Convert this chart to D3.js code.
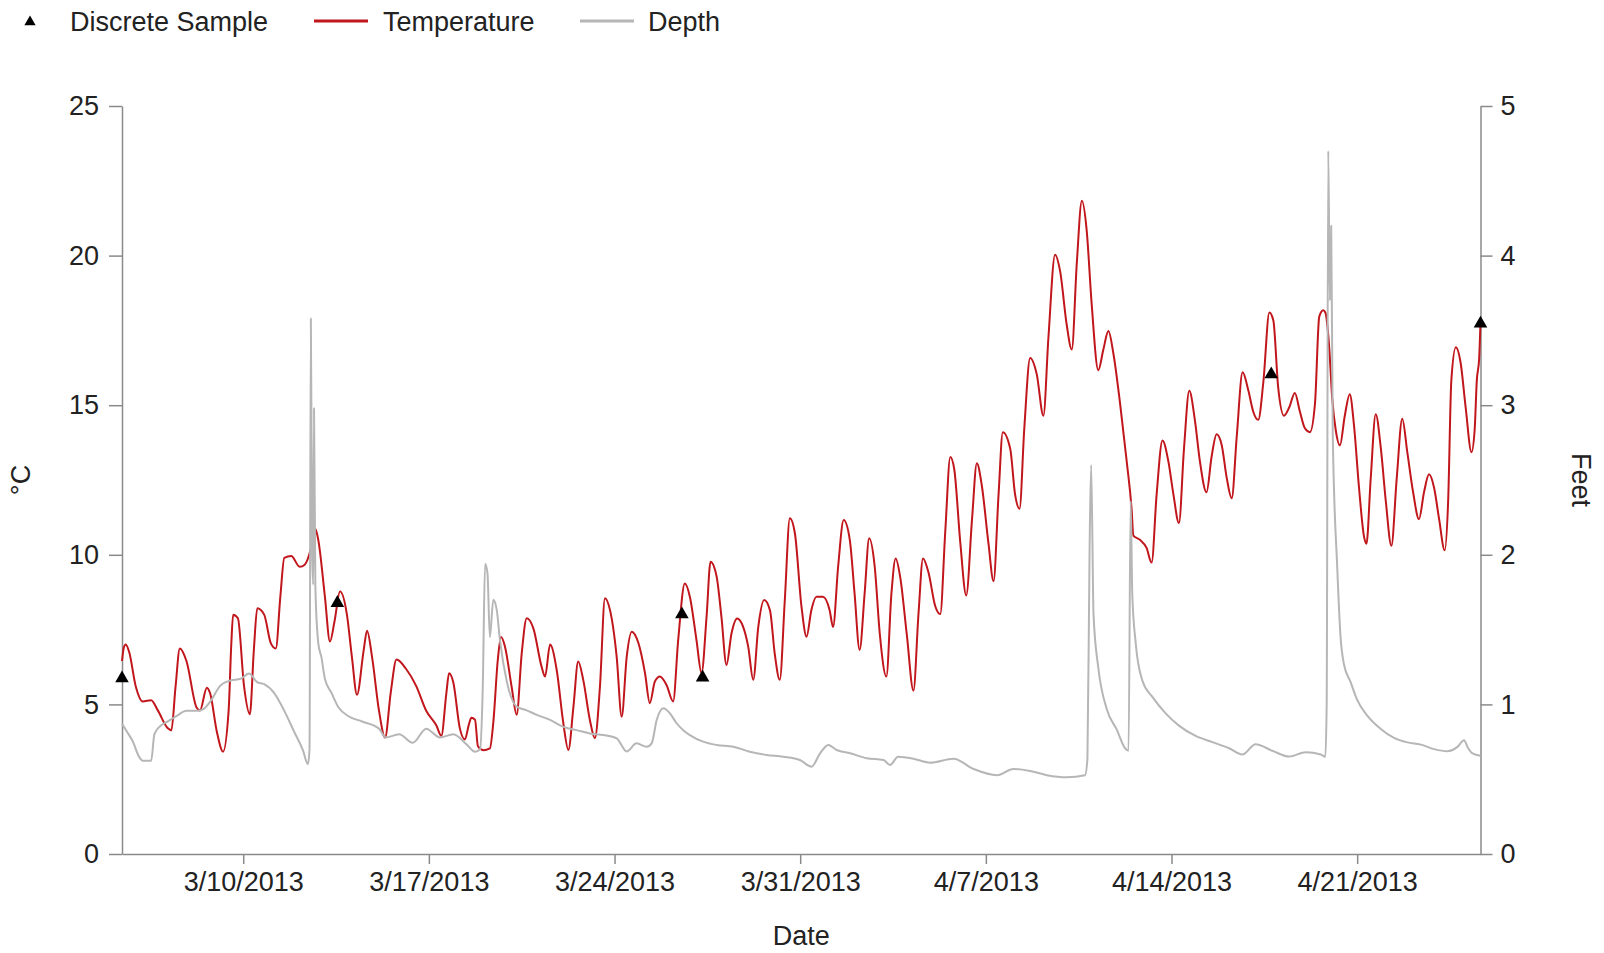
<!DOCTYPE html>
<html><head><meta charset="utf-8">
<script src="https://cdn.jsdelivr.net/npm/d3@7"></script>
<style>
body{margin:0;background:#fff;}
svg text{font-family:"Liberation Sans",Arial,sans-serif;}
</style></head><body>
<svg id="chart" width="1604" height="953"></svg>
<script>
// ---- data (day offsets are days since 3/10/2013 00:00) ----
const xTickLabels = ["3/10/2013","3/17/2013","3/24/2013","3/31/2013","4/7/2013","4/14/2013","4/21/2013"];
const yLeftTicks = [0,5,10,15,20,25];
const yRightTicks = [0,1,2,3,4,5];
const xDomainDays = [-4.57, 46.65];
const legendLabels = ["Discrete Sample","Temperature","Depth"];

const temperature = [
[-4.57,6.45],[-4.5,6.9],[-4.43,7.0],[-4.3,6.75],[-4.05,5.6],[-3.79,5.1],[-3.47,5.14],[-3.22,4.8],
[-2.84,4.2],[-2.71,4.13],[-2.55,5.6],[-2.39,6.87],[-2.14,6.45],[-1.76,4.9],[-1.63,4.8],[-1.37,5.56],
[-1.25,5.38],[-0.99,4.07],[-0.76,3.42],[-0.55,4.79],[-0.45,7.0],[-0.38,8.0],[-0.2,7.88],[0.03,5.62],
[0.25,4.67],[0.4,6.8],[0.53,8.21],[0.79,8.0],[1.04,7.05],[1.23,6.87],[1.4,8.6],[1.55,9.9],
[1.81,9.96],[2.13,9.6],[2.32,9.67],[2.57,10.26],[2.72,10.86],[2.83,10.5],[3.08,8.6],[3.27,7.1],
[3.44,7.76],[3.65,8.77],[3.91,8.0],[4.1,6.57],[4.29,5.32],[4.54,6.8],[4.67,7.46],[4.86,6.57],
[5.12,4.79],[5.35,3.89],[5.56,5.38],[5.78,6.5],[6.13,6.2],[6.52,5.62],[6.9,4.79],[7.28,4.3],
[7.47,3.95],[7.66,5.38],[7.76,6.04],[7.92,5.74],[8.17,4.19],[8.36,3.83],[8.5,4.3],[8.6,4.55],
[8.74,4.49],[8.85,3.6],[9.05,3.47],[9.3,3.53],[9.43,4.4],[9.6,6.5],[9.72,7.25],[9.87,6.93],
[10.12,5.59],[10.31,4.65],[10.5,6.7],[10.69,7.88],[10.94,7.54],[11.25,6.26],[11.38,5.93],[11.57,7.0],
[11.82,6.15],[12.07,4.37],[12.26,3.48],[12.45,4.92],[12.63,6.43],[12.82,5.82],[13.07,4.48],[13.26,3.87],
[13.45,5.59],[13.64,8.55],[13.83,8.15],[14.08,6.6],[14.27,4.59],[14.46,6.6],[14.65,7.43],[14.9,7.05],
[15.15,6.04],[15.33,5.04],[15.52,5.76],[15.71,5.93],[15.96,5.65],[16.21,5.1],[16.4,7.15],[16.65,9.04],
[16.84,8.6],[17.09,7.15],[17.28,6.04],[17.47,7.93],[17.62,9.77],[17.85,9.27],[18.03,7.93],[18.22,6.32],
[18.41,7.37],[18.62,7.87],[18.85,7.59],[19.04,6.93],[19.23,5.82],[19.42,7.59],[19.64,8.49],[19.86,8.15],
[20.04,6.7],[20.23,5.82],[20.42,8.49],[20.61,11.22],[20.8,10.72],[21.05,8.26],[21.24,7.26],[21.42,8.15],
[21.61,8.6],[21.86,8.6],[22.11,8.15],[22.24,7.59],[22.43,9.6],[22.64,11.16],[22.87,10.5],[23.05,8.71],
[23.24,6.82],[23.43,8.71],[23.6,10.55],[23.81,9.6],[24.0,7.37],[24.25,5.93],[24.44,8.71],[24.6,9.88],
[24.77,9.26],[25.02,7.33],[25.27,5.46],[25.46,8.02],[25.63,9.88],[25.84,9.4],[26.09,8.29],[26.28,8.02],
[26.47,10.78],[26.66,13.27],[26.81,12.85],[27.04,10.37],[27.26,8.64],[27.48,11.2],[27.66,13.06],[27.85,12.3],
[28.1,10.37],[28.29,9.12],[28.48,12.03],[28.64,14.1],[28.92,13.54],[29.1,12.03],[29.27,11.54],[29.45,14.23],
[29.67,16.58],[29.92,16.03],[30.17,14.65],[30.36,17.27],[30.61,20.03],[30.8,19.48],[31.05,17.68],[31.24,16.86],
[31.43,19.76],[31.62,21.83],[31.8,20.86],[31.99,18.38],[32.24,16.17],[32.43,16.86],[32.62,17.48],[32.81,16.72],
[33.06,15.06],[33.31,13.13],[33.5,11.47],[33.56,10.64],[33.81,10.5],[34.06,10.23],[34.25,9.74],[34.44,12.03],
[34.66,13.82],[34.88,13.13],[35.07,12.03],[35.28,11.06],[35.47,13.54],[35.67,15.48],[35.88,14.51],[36.07,13.13],
[36.32,12.09],[36.51,13.27],[36.7,14.03],[36.89,13.68],[37.08,12.58],[37.27,11.89],[37.46,13.96],[37.68,16.1],
[37.9,15.48],[38.08,14.79],[38.27,14.51],[38.46,15.75],[38.69,18.1],[38.84,17.83],[39.02,15.61],[39.24,14.65],
[39.44,14.93],[39.65,15.41],[39.84,14.79],[40.03,14.23],[40.22,14.1],[40.41,15.06],[40.57,17.96],[40.72,18.17],
[40.8,18.1],[40.94,17.01],[41.06,15.22],[41.19,14.18],[41.35,13.66],[41.53,14.63],[41.72,15.37],[41.88,14.33],
[42.07,12.24],[42.26,10.6],[42.35,10.37],[42.51,12.54],[42.7,14.7],[42.89,13.58],[43.08,11.79],[43.29,10.3],
[43.49,12.54],[43.7,14.55],[43.89,13.43],[44.11,12.09],[44.33,11.19],[44.52,12.09],[44.71,12.69],[44.9,12.24],
[45.09,11.19],[45.3,10.15],[45.43,11.79],[45.55,15.82],[45.72,16.94],[45.9,16.42],[46.09,14.93],[46.31,13.43],
[46.43,14.18],[46.51,15.82],[46.6,16.57],[46.65,17.8]
];

const depth = [
[-4.57,0.87],[-4.37,0.814],[-4.17,0.755],[-3.92,0.648],[-3.79,0.624],[-3.47,0.624],[-3.35,0.8],[-3.16,0.85],
[-2.84,0.886],[-2.52,0.921],[-2.14,0.957],[-1.76,0.957],[-1.5,0.969],[-1.25,1.017],[-0.87,1.124],[-0.48,1.16],
[-0.1,1.171],[0.22,1.207],[0.53,1.148],[0.79,1.136],[1.17,1.076],[1.55,0.957],[1.93,0.814],[2.25,0.695],
[2.44,0.6],[2.5,0.7],[2.55,3.58],[2.6,2.0],[2.64,1.8],[2.67,2.98],[2.72,1.79],[2.83,1.41],
[2.95,1.314],[3.08,1.171],[3.33,1.076],[3.59,0.981],[3.97,0.921],[4.48,0.886],[5.12,0.838],[5.37,0.779],
[5.88,0.8],[6.39,0.743],[6.9,0.838],[7.41,0.779],[7.92,0.8],[8.43,0.731],[8.74,0.683],[8.93,0.7],
[9.03,1.1],[9.12,1.94],[9.21,1.876],[9.3,1.45],[9.43,1.7],[9.56,1.63],[9.68,1.43],[9.93,1.16],
[10.31,0.985],[10.69,0.96],[11.07,0.93],[11.57,0.896],[12.07,0.85],[12.57,0.828],[13.07,0.806],[13.58,0.795],
[14.08,0.773],[14.46,0.685],[14.83,0.74],[15.21,0.717],[15.4,0.74],[15.59,0.896],[15.84,0.974],[16.09,0.94],
[16.34,0.874],[16.59,0.828],[16.84,0.795],[17.34,0.751],[17.85,0.729],[18.48,0.717],[19.1,0.684],[19.73,0.662],
[20.36,0.65],[20.99,0.628],[21.43,0.584],[21.75,0.673],[22.06,0.729],[22.38,0.695],[22.88,0.673],[23.51,0.64],
[24.14,0.628],[24.39,0.595],[24.69,0.65],[25.27,0.637],[25.9,0.61],[26.78,0.637],[27.54,0.568],[28.42,0.527],
[29.04,0.568],[29.67,0.555],[30.3,0.527],[31.05,0.513],[31.74,0.527],[31.83,0.637],[31.91,2.02],[31.97,2.6],
[32.06,1.6],[32.24,1.245],[32.56,0.968],[32.94,0.83],[33.25,0.707],[33.38,0.69],[33.46,2.36],[33.52,1.74],
[33.65,1.41],[33.9,1.16],[34.28,1.05],[34.78,0.94],[35.28,0.858],[35.91,0.789],[36.54,0.748],[37.17,0.707],
[37.67,0.665],[38.17,0.734],[38.8,0.69],[39.43,0.651],[40.06,0.68],[40.63,0.665],[40.8,0.65],[40.85,1.0],
[40.91,4.7],[40.97,3.7],[41.02,4.2],[41.08,2.8],[41.25,1.91],[41.37,1.46],[41.5,1.27],[41.75,1.15],
[42.0,1.03],[42.38,0.925],[42.89,0.836],[43.39,0.776],[43.89,0.746],[44.4,0.731],[44.9,0.701],[45.4,0.687],
[45.78,0.716],[46.03,0.761],[46.16,0.716],[46.35,0.672],[46.65,0.657]
];

const samples = [[-4.57,5.87],[3.55,8.39],[16.54,8.01],[17.32,5.9],[38.76,16.03],[46.65,17.73]];

// ---- chart ----
const svg = d3.select("#chart");
const base = Date.UTC(2013,2,10);
const toDate = d => new Date(base + d*864e5);
const X0 = 122, X1 = 1480.5, Y0 = 854, Y1 = 106;
const x = d3.scaleUtc().domain(xDomainDays.map(toDate)).range([X0,X1]);
const yL = d3.scaleLinear().domain([0,25]).range([Y0,Y1]);
const yR = d3.scaleLinear().domain([0,5]).range([Y0,Y1]);
const axisColor = "#8a8a8a", textColor = "#222", fs = 27;

function styleAxis(g){
  g.selectAll(".domain").attr("stroke",axisColor).attr("stroke-width",1.5);
  g.selectAll(".tick line").attr("stroke",axisColor).attr("stroke-width",1.5);
  g.selectAll(".tick text").attr("fill",textColor).style("font-size",fs+"px")
    .style("font-family",'"Liberation Sans",Arial,sans-serif');
}
const parse = d3.utcParse("%m/%d/%Y");
const fmt = d3.utcFormat("%-m/%-d/%Y");
svg.append("g").attr("transform",`translate(0,${Y0})`)
  .call(d3.axisBottom(x).tickValues(xTickLabels.map(parse)).tickFormat(fmt).tickSizeInner(10).tickSizeOuter(0).tickPadding(8))
  .call(styleAxis);
svg.append("g").attr("transform",`translate(${X0},0)`)
  .call(d3.axisLeft(yL).tickValues(yLeftTicks).tickFormat(d3.format("d")).tickSizeInner(13).tickSizeOuter(0).tickPadding(10))
  .call(styleAxis);
svg.append("g").attr("transform",`translate(${X1},0)`)
  .call(d3.axisRight(yR).tickValues(yRightTicks).tickFormat(d3.format("d")).tickSizeInner(12).tickSizeOuter(0).tickPadding(8))
  .call(styleAxis);

const lineT = d3.line().curve(d3.curveMonotoneX).x(d=>x(toDate(d[0]))).y(d=>yL(d[1]));
const lineD = d3.line().curve(d3.curveMonotoneX).x(d=>x(toDate(d[0]))).y(d=>yR(d[1]));
const tempColor = "#c0161c", depthColor = "#b6b6b6";
svg.append("path").datum(temperature).attr("d",lineT).attr("fill","none")
  .attr("stroke",tempColor).attr("stroke-width",2).attr("stroke-linejoin","round");
svg.append("path").datum(depth).attr("d",lineD).attr("fill","none")
  .attr("stroke",depthColor).attr("stroke-width",2).attr("stroke-linejoin","round");
const tri = d3.symbol().type(d3.symbolTriangle).size(80);
svg.selectAll("path.sample").data(samples).join("path").attr("class","sample")
  .attr("d",tri).attr("fill","#000")
  .attr("transform",d=>`translate(${x(toDate(d[0]))},${yL(d[1])})`);

// titles
svg.append("text").attr("transform","translate(21,480) rotate(-90)").attr("text-anchor","middle")
  .attr("dy","0.35em").style("font-size",fs+"px").attr("fill",textColor).text("°C");
svg.append("text").attr("transform","translate(1581,480) rotate(90)").attr("text-anchor","middle")
  .attr("dy","0.35em").style("font-size",fs+"px").attr("fill",textColor).text("Feet");
svg.append("text").attr("x",(X0+X1)/2).attr("y",945).attr("text-anchor","middle")
  .style("font-size",fs+"px").attr("fill",textColor).text("Date");

// legend
const lg = svg.append("g");
lg.append("path").attr("d",d3.symbol().type(d3.symbolTriangle).size(55)()).attr("fill","#000")
  .attr("transform","translate(30,22)");
lg.append("text").attr("x",70).attr("y",31).style("font-size",fs+"px").attr("fill",textColor).text(legendLabels[0]);
lg.append("line").attr("x1",314).attr("x2",368).attr("y1",21).attr("y2",21).attr("stroke",tempColor).attr("stroke-width",3);
lg.append("text").attr("x",383).attr("y",31).style("font-size",fs+"px").attr("fill",textColor).text(legendLabels[1]);
lg.append("line").attr("x1",580).attr("x2",634).attr("y1",21).attr("y2",21).attr("stroke",depthColor).attr("stroke-width",3);
lg.append("text").attr("x",648).attr("y",31).style("font-size",fs+"px").attr("fill",textColor).text(legendLabels[2]);
</script>
</body></html>
